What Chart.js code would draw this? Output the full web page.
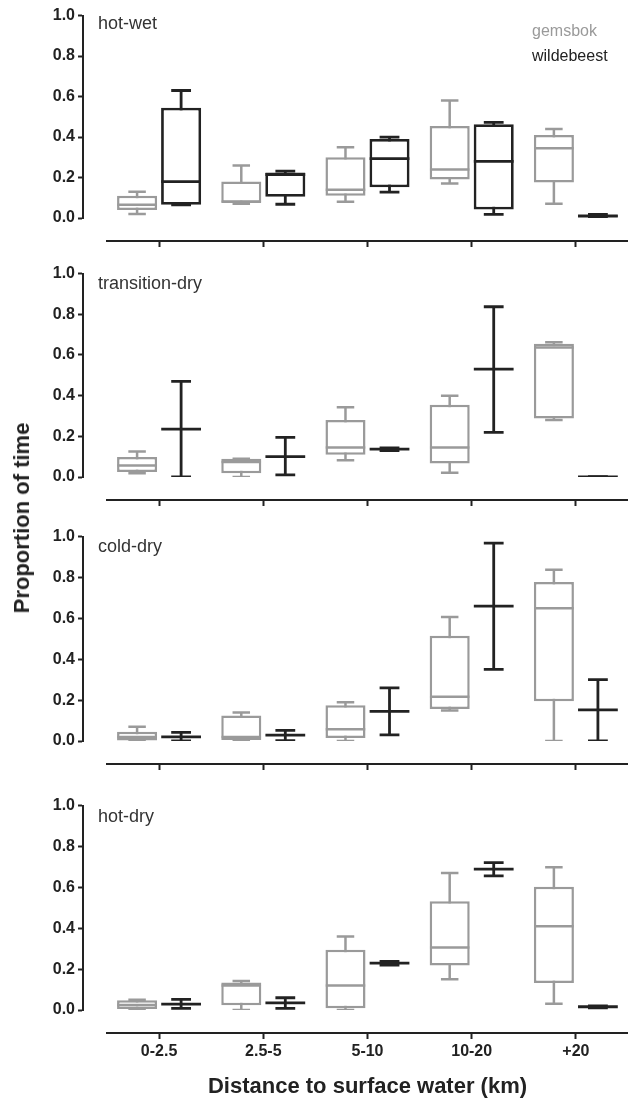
<!DOCTYPE html>
<html>
<head>
<meta charset="utf-8">
<script src="https://cdn.jsdelivr.net/npm/chart.js@4.4.1/dist/chart.umd.min.js"></script>
<style>
html,body{margin:0;padding:0;background:#fff;}
#wrap{position:relative;width:628px;height:1100px;overflow:hidden;font-family:"Liberation Sans",Arial,sans-serif;}
#wrap canvas{position:absolute;left:0;}
.txt{position:absolute;white-space:nowrap;line-height:1;transform:translateY(-50%);}
.plabel{left:98px;font-size:18px;color:#333;}
.leg{left:532px;font-size:16px;}
#ytitle{position:absolute;left:22px;top:518px;font-size:22px;font-weight:bold;color:#222;white-space:nowrap;line-height:1;transform:translate(-50%,-50%) rotate(-90deg);}
</style>
</head>
<body>
<div id="wrap">
  <canvas id="c1"></canvas>
  <canvas id="c2"></canvas>
  <canvas id="c3"></canvas>
  <canvas id="c4"></canvas>
  <div class="txt plabel" style="top:23px">hot-wet</div>
  <div class="txt plabel" style="top:283px">transition-dry</div>
  <div class="txt plabel" style="top:546px">cold-dry</div>
  <div class="txt plabel" style="top:816px">hot-dry</div>
  <div class="txt leg" style="top:31px;color:#9a9a9a">gemsbok</div>
  <div class="txt leg" style="top:56px;color:#222">wildebeest</div>
  <div id="ytitle">Proportion of time</div>
</div>
<script>
// ---- data: each entry is [min, q1, median, q3, max] ----
const categories = ['0-2.5', '2.5-5', '5-10', '10-20', '+20'];
const seasons = ['hot-wet', 'transition-dry', 'cold-dry', 'hot-dry'];
const yTicks = [0, 0.2, 0.4, 0.6, 0.8, 1.0];

const hotWetGemsbok = [
  [0.02, 0.04, 0.065, 0.11, 0.13],
  [0.07, 0.075, 0.08, 0.18, 0.26],
  [0.08, 0.11, 0.14, 0.30, 0.35],
  [0.17, 0.19, 0.24, 0.455, 0.58],
  [0.07, 0.175, 0.345, 0.41, 0.44]
];
const hotWetWildebeest = [
  [0.065, 0.065, 0.18, 0.545, 0.63],
  [0.068, 0.105, 0.215, 0.225, 0.232],
  [0.128, 0.152, 0.293, 0.39, 0.40],
  [0.018, 0.042, 0.28, 0.463, 0.472],
  [0.004, 0.006, 0.01, 0.014, 0.018]
];
const transitionDryGemsbok = [
  [0.018, 0.024, 0.056, 0.098, 0.125],
  [0.0, 0.018, 0.074, 0.09, 0.09],
  [0.082, 0.11, 0.145, 0.28, 0.343],
  [0.021, 0.066, 0.145, 0.355, 0.40],
  [0.28, 0.287, 0.637, 0.655, 0.662]
];
const transitionDryWildebeest = [
  [0.0, 0.235, 0.235, 0.235, 0.47],
  [0.01, 0.1, 0.1, 0.1, 0.195],
  [0.13, 0.137, 0.137, 0.137, 0.143],
  [0.219, 0.53, 0.53, 0.53, 0.837],
  [0.0, 0.0, 0.0, 0.0, 0.0]
];
const coldDryGemsbok = [
  [0.0, 0.003, 0.02, 0.045, 0.07],
  [0.0, 0.005, 0.02, 0.125, 0.14],
  [0.0, 0.015, 0.058, 0.175, 0.19],
  [0.149, 0.157, 0.216, 0.515, 0.607],
  [0.0, 0.195, 0.65, 0.778, 0.838]
];
const coldDryWildebeest = [
  [0.0, 0.02, 0.02, 0.02, 0.042],
  [0.002, 0.029, 0.029, 0.029, 0.052],
  [0.03, 0.145, 0.145, 0.145, 0.26],
  [0.35, 0.66, 0.66, 0.66, 0.968],
  [0.0, 0.152, 0.152, 0.152, 0.30]
];
const hotDryGemsbok = [
  [0.0, 0.005, 0.024, 0.048, 0.05],
  [0.0, 0.023, 0.12, 0.135, 0.142],
  [0.0, 0.008, 0.12, 0.295, 0.36],
  [0.15, 0.218, 0.306, 0.532, 0.67],
  [0.03, 0.132, 0.41, 0.603, 0.698]
];
const hotDryWildebeest = [
  [0.008, 0.029, 0.029, 0.029, 0.052],
  [0.008, 0.035, 0.035, 0.035, 0.06],
  [0.22, 0.229, 0.229, 0.229, 0.238],
  [0.656, 0.689, 0.689, 0.689, 0.721],
  [0.01, 0.016, 0.016, 0.016, 0.02]
];

// ---- styling ----
const FONT = '"Liberation Sans", Arial, sans-serif';
const GRAY = '#9a9a9a';
const DARK = '#222222';
const CAT_PCT = 0.845;

function speciesDatasets(values, stack, color, lw, capW) {
  const common = { stack: stack, xAxisID: 'x', yAxisID: 'y', categoryPercentage: CAT_PCT, borderSkipped: false, borderRadius: 0 };
  return [
    Object.assign({}, common, { label: stack + '-median', order: 0, data: values.map(v => [v[2], v[2]]),
      backgroundColor: color, borderWidth: 0, inflateAmount: lw / 2, barPercentage: 0.84 }),
    Object.assign({}, common, { label: stack + '-box', order: 1, data: values.map(v => [v[1], v[3]]),
      backgroundColor: '#ffffff', borderColor: color, borderWidth: lw, inflateAmount: 0, barPercentage: 0.91 }),
    Object.assign({}, common, { label: stack + '-capLow', order: 2, data: values.map(v => [v[0], v[0]]),
      backgroundColor: color, borderWidth: 0, inflateAmount: lw / 2, barPercentage: 0.91, maxBarThickness: capW }),
    Object.assign({}, common, { label: stack + '-capHigh', order: 2, data: values.map(v => [v[4], v[4]]),
      backgroundColor: color, borderWidth: 0, inflateAmount: lw / 2, barPercentage: 0.91, maxBarThickness: capW }),
    Object.assign({}, common, { label: stack + '-whisker', order: 3, data: values.map(v => [v[0], v[4]]),
      backgroundColor: color, borderWidth: 0, inflateAmount: 0, barPercentage: 0.91, maxBarThickness: lw })
  ];
}

function makePanel(canvasId, top, plotH, xH, gem, wil, showX) {
  const cv = document.getElementById(canvasId);
  const padTop = 10, gap = 23;
  const h = padTop + plotH + gap + xH;
  cv.style.top = (top - padTop) + 'px';
  cv.width = 628; cv.height = h;
  cv.style.width = '628px'; cv.style.height = h + 'px';
  const datasets = speciesDatasets(gem, 'gemsbok', GRAY, 2.5, 15).concat(speciesDatasets(wil, 'wildebeest', DARK, 2.8, 17));
  return new Chart(cv, {
    type: 'bar',
    data: { labels: categories, datasets: datasets },
    options: {
      responsive: false, maintainAspectRatio: false, animation: false, events: [],
      layout: { padding: { top: padTop, bottom: 0, left: 0, right: 0 } },
      plugins: { legend: { display: false }, tooltip: { enabled: false }, title: { display: false } },
      scales: {
        x: {
          type: 'category', position: 'bottom', weight: 1, offset: true,
          grid: { display: true, drawOnChartArea: false, drawTicks: true, tickLength: 6, tickWidth: 2, tickColor: DARK, offset: false },
          border: { display: true, color: DARK, width: 2 },
          ticks: { display: showX, color: DARK, padding: 3, maxRotation: 0, autoSkip: false,
                   font: { family: FONT, size: 16, weight: 'bold' } },
          title: { display: showX, text: 'Distance to surface water (km)', color: DARK, padding: { top: 0, bottom: 0 },
                   font: { family: FONT, size: 22, weight: 'bold' } },
          afterFit: s => { s.height = xH; }
        },
        xgap: {
          type: 'linear', axis: 'x', position: 'bottom', weight: 0, display: true,
          grid: { display: false }, border: { display: false }, ticks: { display: false },
          afterFit: s => { s.height = gap; }
        },
        y: {
          type: 'linear', position: 'left', weight: 1, min: 0, max: 1, stacked: false,
          afterBuildTicks: s => { s.ticks = yTicks.map(v => ({ value: v })); },
          ticks: { color: DARK, padding: 3, callback: v => Number(v).toFixed(1),
                   font: { family: FONT, size: 16, weight: 'bold' } },
          grid: { display: true, drawOnChartArea: false, drawTicks: true, tickLength: 5, tickWidth: 2, tickColor: DARK },
          border: { display: true, color: DARK, width: 2 },
          afterFit: s => { s.width = 83; }
        },
        ygap: {
          type: 'linear', axis: 'y', position: 'left', weight: 0, display: true,
          grid: { display: false }, border: { display: false }, ticks: { display: false },
          afterFit: s => { s.width = 24; }
        }
      }
    }
  });
}

makePanel('c1', 13, 205, 8, hotWetGemsbok, hotWetWildebeest, false);
makePanel('c2', 271, 206, 8, transitionDryGemsbok, transitionDryWildebeest, false);
makePanel('c3', 534, 207, 8, coldDryGemsbok, coldDryWildebeest, false);
makePanel('c4', 803, 207, 1100 - 1010 - 23, hotDryGemsbok, hotDryWildebeest, true);
</script>
</body>
</html>
